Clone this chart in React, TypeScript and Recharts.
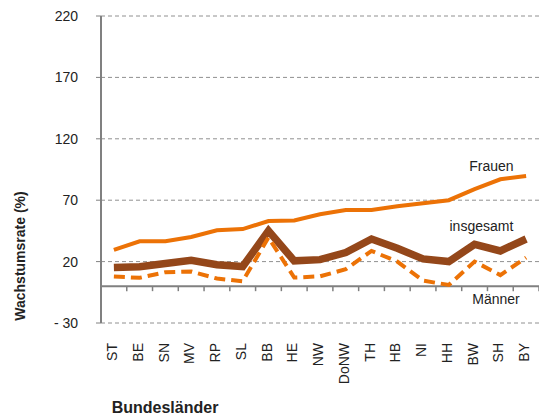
import React from "react";
import { LineChart, Line, XAxis, YAxis, CartesianGrid, ReferenceLine } from "recharts";

const categories = ["ST", "BE", "SN", "MV", "RP", "SL", "BB", "HE", "NW", "DoNW", "TH", "HB", "NI", "HH", "BW", "SH", "BY"];
const frauen = [29.5, 36.5, 36.5, 40, 45.5, 46.5, 53, 53.5, 58.5, 62, 62, 65, 67.5, 70, 79, 87, 89.7];
const insgesamt = [15.2, 15.8, 18.4, 21, 17.5, 16, 45, 20.6, 21.6, 27.4, 38.4, 30.8, 22.2, 20, 34, 28.7, 38.4];
const maenner = [7.8, 6.8, 11.4, 12, 6.2, 4, 39.6, 7, 8, 13.8, 28.7, 20, 4.5, 1, 20, 9, 23.3];
const yTicks = [-30, 20, 70, 120, 170, 220];

const data = categories.map((name, i) => ({
  name,
  frauen: frauen[i],
  insgesamt: insgesamt[i],
  maenner: maenner[i],
}));

const W = 539;
const H = 419;
const TOP = 16;
const YAXIS_W = 101;
const XAXIS_H = 96;
const PLOT_H = H - TOP - XAXIS_H;
const PLOT_W = W - YAXIS_W;
const BAND = PLOT_W / categories.length;
const Y_MIN = -30;
const Y_MAX = 220;
const ZERO_Y = TOP + (PLOT_H * (Y_MAX - 0)) / (Y_MAX - Y_MIN);

const FONT = "'Liberation Sans', Arial, sans-serif";
const ORANGE = "#EC7206";
const BROWN = "#94471A";
const GRAY = "#808080";

const XTick = (props: any) => {
  const { x, y, payload } = props;
  return (
    <g>
      <line x1={x + BAND / 2} x2={x + BAND / 2} y1={ZERO_Y} y2={ZERO_Y + 5} stroke={GRAY} strokeWidth={1.5} />
      <g transform={`translate(${x},${y + 20}) rotate(-90)`}>
        <text x={0} y={0} dy="0.22em" textAnchor="end" fontSize={14} fontFamily={FONT} fill="#222">
          {payload.value}
        </text>
      </g>
    </g>
  );
};

export default function App() {
  return (
    <div style={{ position: "absolute", left: 0, top: 0, width: W, height: H }}>
      <LineChart width={W} height={H} data={data} margin={{ top: TOP, right: 0, bottom: 0, left: 0 }}>
        <CartesianGrid vertical={false} stroke="#909090" strokeDasharray="4 3" strokeWidth={1} />
        <XAxis
          dataKey="name"
          scale="band"
          interval={0}
          height={XAXIS_H}
          axisLine={false}
          tickLine={false}
          tickSize={0}
          tickMargin={0}
          tick={<XTick />}
        />
        <YAxis
          width={YAXIS_W}
          domain={[Y_MIN, Y_MAX]}
          ticks={yTicks}
          interval={0}
          allowDataOverflow
          axisLine={{ stroke: GRAY, strokeWidth: 2 }}
          tickLine={{ stroke: GRAY, strokeWidth: 1 }}
          tickSize={5}
          tickMargin={18}
          tick={{ fontSize: 14, fontFamily: FONT, fill: "#222" }}
          tickFormatter={(v: number) => (v < 0 ? `- ${Math.abs(v)}` : `${v}`)}
        />
        <ReferenceLine y={0} stroke={GRAY} strokeWidth={2} />
        <Line type="linear" dataKey="frauen" stroke={ORANGE} strokeWidth={4} dot={false} isAnimationActive={false} />
        <Line type="linear" dataKey="insgesamt" stroke={BROWN} strokeWidth={7.5} dot={false} isAnimationActive={false} />
        <Line type="linear" dataKey="maenner" stroke={ORANGE} strokeWidth={4} strokeDasharray="11 6" dot={false} isAnimationActive={false} />
      </LineChart>
      <svg width={W} height={H} style={{ position: "absolute", left: 0, top: 0, pointerEvents: "none" }}>
        <text x={469.3} y={170.7} fontSize={14} fontFamily={FONT} fill="#222">Frauen</text>
        <text x={449.5} y={231} fontSize={14} fontFamily={FONT} fill="#222">insgesamt</text>
        <text x={472.3} y={304} fontSize={14} fontFamily={FONT} fill="#222">Männer</text>
        <text x={111.7} y={412.7} fontSize={16} fontWeight="bold" fontFamily={FONT} fill="#222">Bundesländer</text>
        <g transform="translate(25,256) rotate(-90)">
          <text x={0} y={0} textAnchor="middle" fontSize={14} fontWeight="bold" fontFamily={FONT} fill="#222">
            Wachstumsrate (%)
          </text>
        </g>
      </svg>
    </div>
  );
}
